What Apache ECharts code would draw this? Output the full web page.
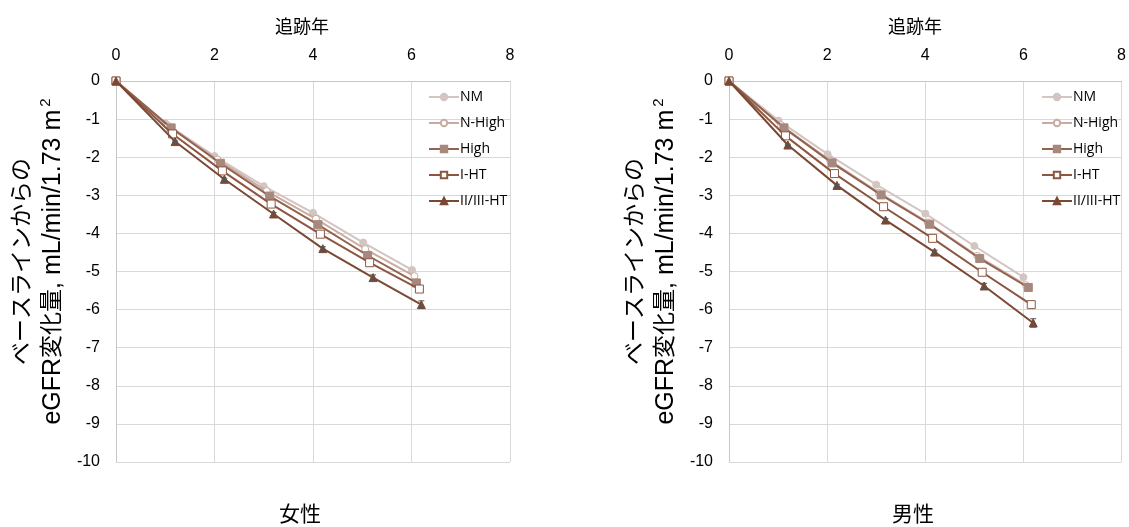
<!DOCTYPE html>
<html><head><meta charset="utf-8">
<script src="https://cdn.jsdelivr.net/npm/echarts@6/dist/echarts.min.js"></script>
<style>html,body{margin:0;padding:0;background:#fff}#c{width:1129px;height:527px}</style>
</head><body><div id="c"></div>
<script>
// ---- data ----
const seriesNames = ['NM', 'N-High', 'High', 'I-HT', 'II/III-HT'];
const xTicks = [0, 2, 4, 6, 8];
const panelLabels = ['女性', '男性'];
const xAxisTitle = '追跡年';

// Female (女性)
const fNM_x   = [0, 1.00, 2.00, 3.00, 4.00, 5.02, 6.01];
const fNM_y   = [0, -1.11, -1.97, -2.76, -3.46, -4.24, -4.96];
const fNH_x   = [0, 1.05, 2.06, 3.06, 4.06, 5.06, 6.06];
const fNH_y   = [0, -1.17, -2.06, -2.89, -3.62, -4.41, -5.12];
const fHi_x   = [0, 1.12, 2.12, 3.12, 4.10, 5.11, 6.10];
const fHi_y   = [0, -1.23, -2.16, -3.02, -3.77, -4.58, -5.30];
const fI_x    = [0, 1.15, 2.16, 3.15, 4.15, 5.15, 6.16];
const fI_y    = [0, -1.39, -2.36, -3.23, -4.02, -4.77, -5.46];
const fII_x   = [0, 1.20, 2.20, 3.20, 4.20, 5.22, 6.20];
const fII_y   = [0, -1.59, -2.58, -3.49, -4.40, -5.16, -5.87];
const fII_err = [0, 0.02, 0.03, 0.04, 0.05, 0.07, 0.10];

// Male (男性)
const mNM_x   = [0, 1.01, 2.01, 3.00, 4.00, 5.00, 6.00];
const mNM_y   = [0, -1.04, -1.92, -2.72, -3.48, -4.33, -5.15];
const mNH_x   = [0, 1.06, 2.06, 3.05, 4.05, 5.06, 6.05];
const mNH_y   = [0, -1.16, -2.09, -2.93, -3.71, -4.59, -5.36];
const mHi_x   = [0, 1.12, 2.10, 3.10, 4.09, 5.11, 6.10];
const mHi_y   = [0, -1.23, -2.15, -2.99, -3.76, -4.66, -5.42];
const mI_x    = [0, 1.15, 2.15, 3.15, 4.15, 5.16, 6.16];
const mI_y    = [0, -1.44, -2.43, -3.30, -4.13, -5.02, -5.87];
const mII_x   = [0, 1.20, 2.20, 3.19, 4.19, 5.20, 6.20];
const mII_y   = [0, -1.68, -2.74, -3.65, -4.49, -5.38, -6.35];
const mII_err = [0, 0.02, 0.03, 0.04, 0.05, 0.07, 0.11];

// ---- styling ----
const FONT = "'Liberation Sans', 'Noto Sans CJK JP', sans-serif";
const styles = [
  {line: '#d2c5c2', symbol: 'circle', fill: '#d2c5c2', border: '#d2c5c2', size: 7},
  {line: '#c9aba2', symbol: 'circle', fill: '#ffffff', border: '#c9aba2', size: 7},
  {line: '#93634f', symbol: 'rect',   fill: '#a6887d', border: '#a6887d', size: 8},
  {line: '#8c5641', symbol: 'rect',   fill: '#ffffff', border: '#8c5641', size: 8},
  {line: '#7a4833', symbol: 'triangle', fill: '#7a4833', border: '#7a4833', size: 8}
];

function pairs(xs, ys) { return xs.map((x, i) => [x, ys[i]]); }

const panels = [
  {xs: [fNM_x, fNH_x, fHi_x, fI_x, fII_x], ys: [fNM_y, fNH_y, fHi_y, fI_y, fII_y], errX: fII_x, errY: fII_y, err: fII_err},
  {xs: [mNM_x, mNH_x, mHi_x, mI_x, mII_x], ys: [mNM_y, mNH_y, mHi_y, mI_y, mII_y], errX: mII_x, errY: mII_y, err: mII_err}
];

const grids = [
  {left: 116, top: 81, width: 394, height: 381},
  {left: 729, top: 81, width: 393, height: 381}
];

const xAxes = [], yAxes = [], series = [], legends = [];
panels.forEach((p, gi) => {
  xAxes.push({
    gridIndex: gi, type: 'value', position: 'top', min: 0, max: 8, interval: 2,
    axisLabel: {fontSize: 16, color: '#000', fontFamily: FONT, margin: 17,
      formatter: v => xTicks.includes(v) ? String(v) : ''},
    axisLine: {show: true, onZero: false, lineStyle: {color: '#c8c8c8', width: 1}},
    axisTick: {show: false},
    splitLine: {show: true, lineStyle: {color: '#d9d9d9', width: 1}}
  });
  yAxes.push({
    gridIndex: gi, type: 'value', min: -10, max: 0, interval: 1,
    name: '{j|ベースラインからの}\n{l|eGFR}{j|変化量}{l|, mL/min/1.73 m}{sup|2}',
    nameLocation: 'middle', nameRotate: 90, nameGap: 48,
    nameTextStyle: {fontSize: 23, color: '#000', fontFamily: FONT, lineHeight: 30, padding: [0, 0, 0, 20],
      rich: {
        j: {fontSize: 23, color: '#000', fontFamily: FONT, lineHeight: 30},
        l: {fontSize: 25, color: '#000', fontFamily: FONT, lineHeight: 30},
        sup: {fontSize: 15, color: '#000', fontFamily: FONT, lineHeight: 30, padding: [0, 0, 14, 3]}
      }},
    axisLabel: {fontSize: 16, color: '#000', fontFamily: FONT, margin: 16},
    axisLine: {show: true, onZero: false, lineStyle: {color: '#c8c8c8', width: 1}},
    axisTick: {show: false},
    splitLine: {show: true, lineStyle: {color: '#d9d9d9', width: 1}}
  });
  seriesNames.forEach((nm, si) => {
    const st = styles[si];
    series.push({
      name: nm, type: 'line', xAxisIndex: gi, yAxisIndex: gi,
      data: pairs(p.xs[si], p.ys[si]),
      symbol: st.symbol, symbolSize: st.size, showAllSymbol: true,
      lineStyle: {color: st.line, width: 2},
      itemStyle: {color: st.fill, borderColor: st.border, borderWidth: 1},
      color: st.line,
      z: 2 + si, animation: false
    });
  });
  const errData = p.errX.map((x, i) => [x, p.errY[i], p.err[i]]);
  series.push({
    type: 'custom', xAxisIndex: gi, yAxisIndex: gi, data: errData, z: 10, animation: false,
    silent: true,
    renderItem: (params, api) => {
      const x = api.value(0), y = api.value(1), e = api.value(2);
      if (!e) return null;
      const top = api.coord([x, y + e]), bot = api.coord([x, y - e]);
      const s = {stroke: '#555', lineWidth: 1};
      return {type: 'group', children: [
        {type: 'line', shape: {x1: top[0], y1: top[1], x2: bot[0], y2: bot[1]}, style: s},
        {type: 'line', shape: {x1: top[0] - 3, y1: top[1], x2: top[0] + 3, y2: top[1]}, style: s},
        {type: 'line', shape: {x1: bot[0] - 3, y1: bot[1], x2: bot[0] + 3, y2: bot[1]}, style: s}
      ]};
    }
  });
  legends.push({
    orient: 'vertical', left: gi === 0 ? 423 : 1036, top: 85, itemGap: 12,
    itemWidth: 30, itemHeight: 8,
    textStyle: {fontSize: 14, color: '#000', fontFamily: "'Open Sans', 'Liberation Sans', sans-serif", padding: [0, 0, 0, -4]},
    data: seriesNames
  });
});

const chart = echarts.init(document.getElementById('c'), null, {renderer: 'canvas'});
chart.setOption({
  animation: false,
  backgroundColor: '#fff',
  grid: grids,
  xAxis: xAxes,
  yAxis: yAxes,
  legend: legends,
  series: series,
  graphic: [
    ...panelLabels.map((t, i) => ({
      type: 'text', x: i === 0 ? 300 : 913, y: 515,
      style: {text: t, fontSize: 21, fill: '#000', fontFamily: FONT, align: 'center', verticalAlign: 'middle'}
    })),
    ...[302, 915].map(cx => ({
      type: 'text', x: cx, y: 28,
      style: {text: xAxisTitle, fontSize: 18, fill: '#000', fontFamily: FONT, align: 'center', verticalAlign: 'middle'}
    }))
  ]
});
</script></body></html>
